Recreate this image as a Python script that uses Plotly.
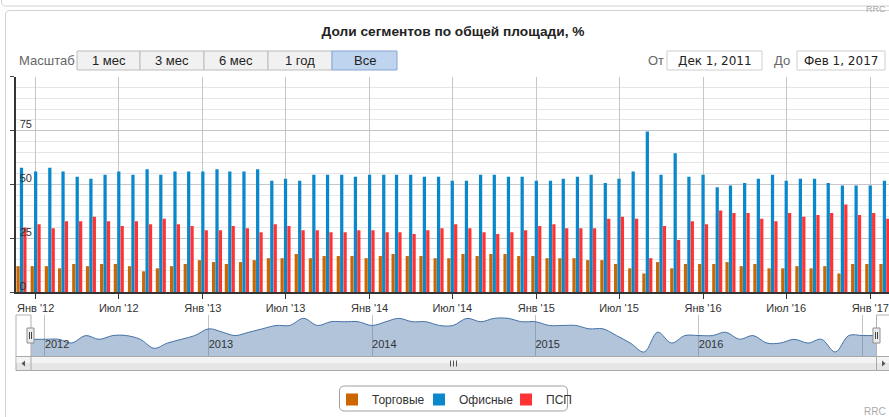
import plotly.graph_objects as go
import pandas as pd

W, H = 889, 417

# ---------------- data ----------------
months = pd.date_range("2011-12-01", periods=63, freq="MS")

retail = [12, 12, 12, 11, 13, 12, 13, 13, 12, 9.6, 11, 12,
          13, 14.8, 13.9, 13, 13.9, 14.8, 15.7, 15.7, 17.6, 15.7, 16.7, 16.7,
          16.7, 15.7, 16.7, 17.6, 16.7, 16.7, 15.7, 15.7, 17.6, 16.7, 17.6, 17.6,
          16.7, 16.7, 15.7, 15.7, 15.7, 14.8, 14.8, 13, 11, 8.6, 13.9, 11,
          13, 13, 13, 13.9, 12, 13, 11, 11, 12, 11, 12, 8.6,
          13, 13, 13]

office = [57.7, 56, 57.7, 56, 53.5, 52.6, 54.5, 56, 54.5, 57, 54.5, 56,
          56, 56, 57, 56, 56, 57, 51.7, 52.6, 51.7, 54.5, 54.5, 54.5,
          53.5, 54.5, 54.5, 54.5, 54.5, 53.5, 53.5, 51.7, 51.7, 54.5, 54.5, 53.5,
          53.5, 51.7, 51.7, 52.6, 53.5, 54.5, 50.6, 52.6, 56, 74.5, 54.5, 64.5,
          53.5, 54.5, 48.6, 49.5, 50.6, 52.6, 54.5, 51.7, 52.6, 52.6, 50.6, 49.5,
          49.5, 49.5, 51.7]

psp = [30, 31.5, 29.6, 32.9, 32.9, 34.9, 32.9, 30.6, 32.9, 31.5, 34, 31.5,
       30.6, 28.7, 28.7, 30.6, 29.6, 27.8, 31.5, 30.6, 28.7, 28.7, 27.8, 27.8,
       28.7, 28.7, 27.8, 27.8, 26.9, 28.7, 29.6, 31.5, 29.6, 27.8, 26.9, 27.8,
       28.7, 30.6, 31.5, 29.6, 29.6, 29.6, 34, 34.9, 34, 15.7, 30.6, 24.1,
       32.9, 31.5, 37.8, 36.7, 36.7, 34, 32.9, 36.7, 34.9, 35.8, 36.7, 40.6,
       35.8, 36.7, 34]

series_names = ["Торговые", "Офисные", "ПСП"]
series_colors = ["#cc6600", "#0a88cc", "#ff3333"]

main_tickvals = list(pd.date_range("2012-01-01", "2017-01-01", freq="6MS"))
main_ticktext = ["Янв '12", "Июл '12", "Янв '13", "Июл '13", "Янв '14", "Июл '14",
                 "Янв '15", "Июл '15", "Янв '16", "Июл '16", "Янв '17"]
y_tickvals = [0, 25, 50, 75, 100]
y_ticktext = ["0", "25", "50", "75", ""]
nav_tickvals = list(pd.date_range("2012-01-01", "2017-01-01", freq="YS"))
nav_ticktext = ["2012", "2013", "2014", "2015", "2016", "2017"]

title_text = "Доли сегментов по общей площади, %"
scale_label = "Масштаб"
range_buttons = ["1 мес", "3 мес", "6 мес", "1 год", "Все"]
from_label, to_label = "От", "До"
date_from, date_to = "Дек 1, 2011", "Фев 1, 2017"
credit = "RRC"


def px(x):
    return x / W


def py(y):
    return 1 - y / H


FONT = "Liberation Sans, Arial, sans-serif"

fig = go.Figure()
for name, vals, col in zip(series_names, [retail, office, psp], series_colors):
    fig.add_trace(go.Bar(x=months, y=vals, name=name,
                         marker=dict(color=col, line=dict(width=0)),
                         xaxis="x", yaxis="y"))

# navigator (first series, smoothed area)
fig.add_trace(go.Scatter(x=months, y=retail, mode="lines",
                         line=dict(color="#4572a7", width=1, shape="spline", smoothing=1),
                         fill="tozeroy", fillcolor="rgba(69,114,167,0.42)",
                         showlegend=False, hoverinfo="skip",
                         xaxis="x2", yaxis="y2"))

shapes = []
annotations = []


def P(x, y):
    return f"{px(x):.5f},{py(y):.5f}"


# panels
shapes.append(dict(type="path", xref="paper", yref="paper",
                   path=f"M{P(1.5, 0)} L{P(1.5, 2)} Q{P(1.5, 6)} {P(5.5, 6)} L{P(889, 6)}",
                   line=dict(color="#d2d2d2", width=1)))
shapes.append(dict(type="path", xref="paper", yref="paper",
                   path=f"M{P(5.5, 417)} L{P(5.5, 15)} Q{P(5.5, 10.5)} {P(10, 10.5)} L{P(889, 10.5)}",
                   line=dict(color="#d2d2d2", width=1)))

# range selector buttons
edges = [77, 140, 204, 268, 332, 397]
for i, lab in enumerate(range_buttons):
    sel = (i == len(range_buttons) - 1)
    shapes.append(dict(type="rect", xref="paper", yref="paper",
                       x0=px(edges[i]), x1=px(edges[i + 1]), y0=py(70), y1=py(51),
                       fillcolor="#bfd4ef" if sel else "#f1f1f1",
                       line=dict(color="#87a4d4" if sel else "#bcbcbc", width=1)))
    annotations.append(dict(text=lab, x=px((edges[i] + edges[i + 1]) / 2), y=py(61),
                            xref="paper", yref="paper", showarrow=False,
                            xanchor="center", yanchor="middle",
                            font=dict(family=FONT, size=13, color="#222")))
annotations.append(dict(text=scale_label, x=px(17), y=py(61), xref="paper", yref="paper",
                        showarrow=False, xanchor="left", yanchor="middle",
                        font=dict(family=FONT, size=13, color="#666")))

# date inputs
for lab, lx, bx0, bx1, val in [(from_label, 656, 667, 762, date_from),
                               (to_label, 781.5, 797, 885, date_to)]:
    annotations.append(dict(text=lab, x=px(lx), y=py(61), xref="paper", yref="paper",
                            showarrow=False, xanchor="center", yanchor="middle",
                            font=dict(family=FONT, size=13, color="#666")))
    shapes.append(dict(type="rect", xref="paper", yref="paper",
                       x0=px(bx0), x1=px(bx1), y0=py(70), y1=py(51),
                       fillcolor="white", line=dict(color="#cfcfcf", width=1)))
    annotations.append(dict(text=val, x=px((bx0 + bx1) / 2), y=py(61), xref="paper", yref="paper",
                            showarrow=False, xanchor="center", yanchor="middle",
                            font=dict(family="DejaVu Sans, sans-serif", size=12, color="#222")))

# scrollbar
shapes.append(dict(type="rect", xref="paper", yref="paper",
                   x0=px(16), x1=px(891), y0=py(370.5), y1=py(356.5),
                   fillcolor="#e6e6e6", line=dict(color="#a9a9a9", width=1)))
shapes.append(dict(type="rect", xref="paper", yref="paper",
                   x0=px(16.5), x1=px(890), y0=py(363), y1=py(357),
                   fillcolor="#f4f4f4", line=dict(width=0)))
for xx in [31, 876.5]:
    shapes.append(dict(type="line", xref="paper", yref="paper",
                       x0=px(xx), x1=px(xx), y0=py(370.5), y1=py(356.5),
                       line=dict(color="#a9a9a9", width=1)))
for gx in [450.5, 453.5, 456.5]:
    shapes.append(dict(type="line", xref="paper", yref="paper",
                       x0=px(gx), x1=px(gx), y0=py(366.5), y1=py(360.5),
                       line=dict(color="#555", width=1)))
shapes.append(dict(type="path", xref="paper", yref="paper",
                   path=f"M{P(25, 360.5)} L{P(21.5, 363.5)} L{P(25, 366.5)} Z",
                   fillcolor="#555", line=dict(width=0)))
shapes.append(dict(type="path", xref="paper", yref="paper",
                   path=f"M{P(882, 360.5)} L{P(885.5, 363.5)} L{P(882, 366.5)} Z",
                   fillcolor="#555", line=dict(width=0)))

# navigator outline
shapes.append(dict(type="path", xref="paper", yref="paper",
                   path=f"M{P(16, 356.5)} L{P(16, 315)} L{P(31, 315)} L{P(31, 356.5)}",
                   line=dict(color="#b2b1b6", width=1)))
shapes.append(dict(type="path", xref="paper", yref="paper",
                   path=f"M{P(876.5, 356.5)} L{P(876.5, 315)} L{P(889, 315)}",
                   line=dict(color="#b2b1b6", width=1)))
# handles
for hx in [30.5, 876.5]:
    shapes.append(dict(type="rect", xref="paper", yref="paper",
                       x0=px(hx - 3.5), x1=px(hx + 3.5), y0=py(343), y1=py(328),
                       fillcolor="#ebebeb", line=dict(color="#8f8f8f", width=1)))
    for dx in [-1, 1]:
        shapes.append(dict(type="line", xref="paper", yref="paper",
                           x0=px(hx + dx), x1=px(hx + dx), y0=py(339), y1=py(332),
                           line=dict(color="#444", width=1)))

# legend box
lx0, lx1, ly0, ly1, r = 339.5, 567.5, 386, 411, 5
shapes.append(dict(type="path", xref="paper", yref="paper",
                   path=(f"M{P(lx0 + r, ly0)} L{P(lx1 - r, ly0)} Q{P(lx1, ly0)} {P(lx1, ly0 + r)} "
                         f"L{P(lx1, ly1 - r)} Q{P(lx1, ly1)} {P(lx1 - r, ly1)} "
                         f"L{P(lx0 + r, ly1)} Q{P(lx0, ly1)} {P(lx0, ly1 - r)} "
                         f"L{P(lx0, ly0 + r)} Q{P(lx0, ly0)} {P(lx0 + r, ly0)} Z"),
                   fillcolor="rgba(0,0,0,0)", line=dict(color="#a0a0a0", width=1)))

# credits
annotations.append(dict(text=credit, x=px(888), y=py(2), xref="paper", yref="paper",
                        showarrow=False, xanchor="right", yanchor="top",
                        font=dict(family=FONT, size=9, color="#aaa")))
annotations.append(dict(text=credit, x=px(888), y=py(411.5), xref="paper", yref="paper",
                        showarrow=False, xanchor="right", yanchor="middle",
                        font=dict(family=FONT, size=10, color="#aaa")))

fig.update_layout(
    width=W, height=H, margin=dict(l=0, r=0, t=0, b=0),
    paper_bgcolor="white", plot_bgcolor="rgba(0,0,0,0)",
    barmode="group", bargap=0.2, bargroupgap=0.05,
    font=dict(family=FONT, size=11, color="#333"),
    title=dict(text=f"<b>{title_text}</b>", x=px(453), y=py(31),
               xanchor="center", yanchor="middle", xref="paper", yref="paper",
               font=dict(family=FONT, size=13.7, color="#222")),
    showlegend=True,
    legend=dict(orientation="h", x=px(332), y=py(385), xanchor="left", yanchor="top",
                font=dict(family=FONT, size=12, color="#333"),
                bgcolor="rgba(0,0,0,0)", borderwidth=0,
                entrywidth=42, entrywidthmode="pixels"),
    xaxis=dict(type="date", domain=[px(16), 1], range=["2011-11-19", "2017-02-11"],
               anchor="y", tickmode="array", tickvals=main_tickvals, ticktext=main_ticktext,
               ticks="outside", ticklen=5, tickcolor="#333",
               showgrid=True, gridcolor="#c6c6c6", gridwidth=1,
               showline=True, linecolor="#333", linewidth=1.5,
               tickfont=dict(family=FONT, size=11, color="#333"), zeroline=False),
    yaxis=dict(domain=[py(292), py(76.7)], range=[0, 100], anchor="x",
               tickmode="array", tickvals=y_tickvals, ticktext=y_ticktext,
               ticks="outside", ticklen=4, tickcolor="#444",
               showline=True, linecolor="#333", linewidth=1.8,
               showgrid=True, gridcolor="#c6c6c6",
               ticklabelposition="inside", ticklabelshift=-6, ticklabelstandoff=3,
               tickfont=dict(family=FONT, size=11, color="#333"),
               minor=dict(tickmode="linear", tick0=0, dtick=5, showgrid=True,
                          gridcolor="#e6e6e6", ticks=""),
               zeroline=False),
    xaxis2=dict(type="date", domain=[px(31), px(876.5)], range=["2011-12-01", "2017-02-01"],
                anchor="y2", tickmode="array", tickvals=nav_tickvals, ticktext=nav_ticktext,
                ticks="", showgrid=True, gridcolor="#c4c4c4", showline=False,
                ticklabelposition="inside right",
                tickfont=dict(family=FONT, size=11, color="#333"), zeroline=False),
    yaxis2=dict(domain=[py(356.5), py(315)], range=[7.4, 18.5], anchor="x2",
                showticklabels=False, showgrid=False, zeroline=False, ticks=""),
    shapes=shapes, annotations=annotations,
)

fig.write_html("out.html", config={"displayModeBar": False},
               post_script="document.body.style.margin='0';document.body.style.overflow='hidden';")
